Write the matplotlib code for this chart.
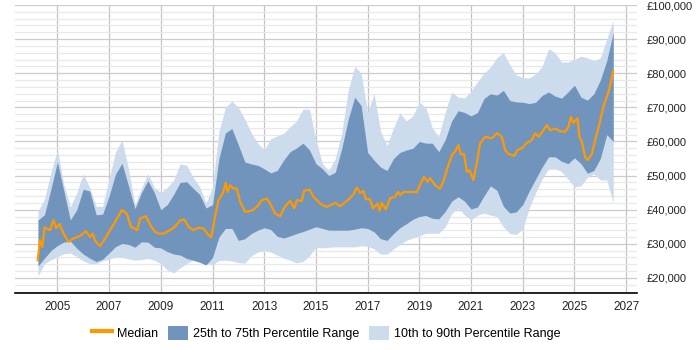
import numpy as np
import matplotlib.pyplot as plt
from matplotlib.patches import Patch
from matplotlib.lines import Line2D
from matplotlib.ticker import FuncFormatter, MultipleLocator

plt.rcParams['font.family'] = ['Liberation Sans', 'DejaVu Sans']

# Kvartalsvisa percentiler (år, £)
band_years = np.arange(2004.25, 2026.51, 0.25)

p90 = [39700, 43000, 51000, 57500, 47500, 40800, 45000, 50500, 46500, 41000,
       41000, 49000, 57000, 60400, 52000, 41500, 46300, 50500, 46500, 45000,
       46500, 48700, 53500, 53000, 49500, 46800, 42000, 46500, 63000, 70000,
       71800, 70000, 66500, 62500, 59500, 57500, 60800, 61600, 62400, 64300,
       66000, 69500, 69500, 60500, 53500, 51500, 55000, 62500, 75000, 82000,
       80000, 68500, 74000, 63000, 58800, 64000, 68300, 66000, 67500, 71500,
       70000, 64000, 61500, 68500, 74500, 73000, 72800, 74800, 77500, 80000,
       81800, 84600, 86000, 82500, 79500, 78700, 78600, 79800, 82000, 87200,
       86000, 83300, 83300, 84000, 85000, 84500, 83700, 84500, 90000, 95600]

p75 = [37000, 38500, 46000, 54000, 45500, 37000, 40000, 46000, 45500, 38500,
       38700, 44000, 50500, 53600, 47000, 40300, 45000, 48500, 45000, 40000,
       41500, 44500, 48000, 48200, 46300, 44500, 40500, 41500, 55000, 62500,
       63800, 59000, 54000, 53400, 53000, 52000, 50800, 51500, 54500, 57000,
       58100, 59500, 57500, 53500, 52000, 50000, 51000, 58000, 66500, 73000,
       70500, 56800, 54500, 52500, 51500, 55000, 56800, 57500, 58000, 60000,
       59500, 59500, 57000, 60500, 66000, 69000, 68500, 67500, 68500, 72600,
       74000, 73600, 75000, 72000, 71600, 71500, 71100, 71500, 73500, 74500,
       73300, 72700, 74500, 76500, 73000, 72100, 74000, 78000, 83700, 92000]

p25 = [23500, 25800, 28000, 29500, 30500, 30800, 28700, 27000, 25800, 24800,
       25500, 27300, 29200, 30100, 29800, 29000, 30600, 30500, 29000, 28800,
       27700, 27000, 26700, 25700, 25200, 24600, 23800, 26000, 32000, 34500,
       34500, 31000, 31500, 33000, 34000, 34700, 34200, 32200, 31700, 32300,
       33000, 33600, 34300, 35000, 34500, 34000, 34000, 34000, 34000, 34300,
       34700, 34500, 33500, 31500, 31000, 33000, 34700, 35900, 37200, 38000,
       38300, 37500, 37300, 39500, 42500, 43800, 42500, 40200, 40800, 44000,
       47000, 45700, 41000, 39000, 39400, 41500, 45500, 49000, 52500, 55500,
       55500, 54200, 53500, 55200, 53500, 50700, 51500, 55000, 62000, 60000]

p10 = [20500, 24200, 25300, 26200, 27100, 27300, 26200, 25000, 24200, 24200,
       25000, 25500, 26100, 26000, 25600, 25200, 25400, 25700, 25200, 24200,
       22300, 21500, 23000, 24200, 25200, 25200, 24300, 23800, 25100, 25200,
       25000, 24500, 24300, 26500, 27600, 28100, 27600, 26700, 25800, 25200,
       24400, 24800, 26500, 29000, 28800, 29000, 29100, 29100, 29100, 29100,
       29400, 29300, 28500, 27000, 27000, 28500, 29800, 31000, 31700, 32400,
       33100, 33100, 33100, 35000, 38800, 40500, 38500, 37000, 38400, 39000,
       38400, 38000, 35000, 33000, 32800, 34300, 40500, 45000, 49000, 52000,
       52000, 51200, 49000, 46700, 47000, 49500, 50500, 48700, 48700, 42000]

# Median
median_years = [2004.24, 2004.33, 2004.42, 2004.5, 2004.72, 2004.85, 2004.95, 2005.08,
                2005.23, 2005.43, 2005.62, 2005.88, 2006.1, 2006.26, 2006.37, 2006.46,
                2006.65, 2006.85, 2007.04, 2007.23, 2007.49, 2007.68, 2007.85, 2008.09,
                2008.2, 2008.42, 2008.59, 2008.78, 2008.91, 2009.1, 2009.36, 2009.55,
                2009.75, 2009.91, 2010.07, 2010.26, 2010.45, 2010.65, 2010.84, 2010.95,
                2011.1, 2011.23, 2011.4, 2011.51, 2011.58, 2011.68, 2011.81, 2011.94,
                2012.07, 2012.26, 2012.52, 2012.71, 2012.91, 2013.1, 2013.23, 2013.42,
                2013.62, 2013.78, 2014.0, 2014.16, 2014.26, 2014.45, 2014.54, 2014.75,
                2014.9, 2015.16, 2015.42, 2015.74, 2015.94, 2016.26, 2016.45, 2016.58,
                2016.71, 2016.84, 2016.93, 2017.1, 2017.2, 2017.38, 2017.46, 2017.55,
                2017.7, 2017.87, 2018.06, 2018.17, 2018.26, 2018.39, 2018.64, 2018.9,
                2019.0, 2019.18, 2019.31, 2019.42, 2019.61, 2019.8, 2019.93, 2020.06,
                2020.26, 2020.38, 2020.51, 2020.6, 2020.73, 2020.84, 2020.94, 2021.09,
                2021.22, 2021.35, 2021.55, 2021.8, 2022.0, 2022.19, 2022.32, 2022.45,
                2022.67, 2022.8, 2022.97, 2023.16, 2023.35, 2023.48, 2023.61, 2023.8,
                2023.93, 2024.06, 2024.25, 2024.45, 2024.64, 2024.77, 2024.86, 2024.96,
                2025.12, 2025.19, 2025.29, 2025.41, 2025.5, 2025.67, 2025.8, 2025.97,
                2026.12, 2026.32, 2026.5]
median_values = [25200, 31100, 29100, 34800, 34000, 36900, 34600, 35800,
                 33100, 30600, 31600, 32300, 33700, 32000, 33000, 30900,
                 29300, 31600, 34000, 36400, 39900, 38900, 35000, 34000,
                 37400, 38100, 35500, 33500, 33000, 33000, 34000, 35000,
                 36900, 37100, 35000, 34000, 34700, 34500, 32600, 31900,
                 38000, 42800, 44800, 47900, 45200, 47200, 46200, 46200,
                 42300, 39400, 39700, 40800, 42800, 43300, 41800, 38900,
                 38100, 40700, 42600, 40400, 42800, 42500, 45500, 45900,
                 43800, 41800, 40800, 42000, 41000, 43000, 44500, 46500,
                 44900, 45500, 43100, 43000, 40400, 41800, 39700, 42000,
                 40100, 43300, 43800, 45200, 44300, 45200, 45200, 45100,
                 46900, 49600, 48200, 49200, 47200, 46200, 48200, 51600,
                 56000, 57000, 58900, 56300, 56300, 51100, 51600, 48700,
                 53600, 59400, 61400, 60900, 62400, 61400, 57500, 56300,
                 55800, 57500, 58000, 59600, 60400, 62400, 61400, 63300,
                 64800, 63300, 63800, 63000, 62800, 64300, 67200, 65500,
                 66800, 61400, 59900, 55500, 54500, 56300, 60400, 65300,
                 70200, 74600, 80700]

year_ticks = list(range(2005, 2028, 2))

fig = plt.figure(figsize=(7, 3.5), dpi=100)
ax = fig.add_axes([0.0214, 0.164, 0.889, 0.8217])

light = '#cddcec'
dark = '#7194bd'
orange = '#ff9900'

ax.fill_between(band_years, p10, p90, color=light, linewidth=0, zorder=2)
ax.fill_between(band_years, p25, p75, color=dark, linewidth=0, zorder=3)
ax.plot(median_years, median_values, color=orange, linewidth=1.6, zorder=4)

ax.set_xlim(2003.36, 2027.43)
ax.set_ylim(15700, 100000)

ax.yaxis.set_major_locator(MultipleLocator(10000))
ax.yaxis.set_minor_locator(MultipleLocator(2000))
ax.set_xticks(year_ticks)
ax.yaxis.set_major_formatter(FuncFormatter(lambda v, p: '£{:,.0f}'.format(v)))
ax.yaxis.tick_right()
ax.tick_params(axis='both', length=0, colors='#222222')
ax.tick_params(axis='y', pad=7, labelsize=8)
ax.tick_params(axis='x', pad=6, labelsize=8.5)
ax.tick_params(axis='y', which='minor', length=0)

ax.grid(axis='y', which='major', color='#cccccc', linewidth=0.9, zorder=0)
ax.grid(axis='y', which='minor', color='#e8e8e8', linewidth=0.9, zorder=0)
ax.grid(axis='x', which='major', color='#c4c4c4', linewidth=0.9, zorder=0)
ax.set_axisbelow(True)

for s in ['left', 'right', 'top']:
    ax.spines[s].set_visible(False)
ax.spines['bottom'].set_color('black')
ax.spines['bottom'].set_linewidth(1.2)

handles = [Line2D([0], [0], color=orange, linewidth=3),
           Patch(facecolor=dark, edgecolor='none'),
           Patch(facecolor=light, edgecolor='none')]
labels = ['Median', '25th to 75th Percentile Range', '10th to 90th Percentile Range']
ax.legend(handles, labels, loc='center', bbox_to_anchor=(0.5, -0.14), ncol=3,
          frameon=False, fontsize=9, handlelength=1.6, handleheight=1.4,
          columnspacing=0.8, handletextpad=0.4)

plt.savefig('out.png', dpi=100)
#plt.show()
